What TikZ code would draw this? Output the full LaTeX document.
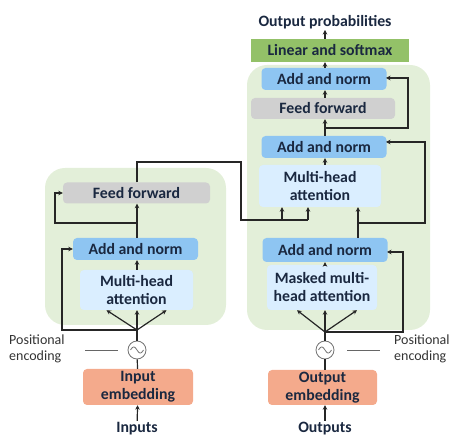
\documentclass[tikz,border=0pt]{standalone}
\usepackage{fontspec}
\setmainfont{Carlito}
\usetikzlibrary{arrows.meta,calc}
\definecolor{bgreen}{HTML}{E3EFD9}
\definecolor{anblue}{HTML}{8EC5F2}
\definecolor{mhblue}{HTML}{DAEEFF}
\definecolor{ffgray}{HTML}{D0D0D0}
\definecolor{lingreen}{HTML}{93C168}
\definecolor{embsal}{HTML}{F4AA8C}
\definecolor{txt}{HTML}{1A2840}
\begin{document}
\begin{tikzpicture}[x=1pt,y=-1pt,
  box/.style={rectangle, rounded corners=4pt, inner sep=0pt, align=center,
    font=\fontsize{15.8}{18}\selectfont\bfseries, text=txt},
  an/.style={box, fill=anblue, minimum width=125pt, minimum height=22pt},
  mh/.style={box, fill=mhblue},
  ff/.style={box, fill=ffgray, minimum height=21pt},
  emb/.style={box, fill=embsal, minimum width=110pt, minimum height=36pt},
  bg/.style={rectangle, rounded corners=20pt, fill=bgreen, inner sep=0pt},
  pe/.style={circle, draw=black!55, fill=white, minimum size=18pt, inner sep=0pt, line width=0.8pt},
  lbl/.style={font=\fontsize{15.8}{18}\selectfont\bfseries, text=txt, inner sep=1pt},
  plbl/.style={font=\fontsize{14}{16.5}\selectfont, text=black!80, align=left, inner sep=0pt},
  conn/.style={draw=black!85, line width=1.2pt},
  arr/.style={conn, -{Stealth[length=4.5pt,width=4.5pt]}},
  peline/.style={draw=black!60, line width=0.8pt},
]
\useasboundingbox (0,0) rectangle (453,438);

% backgrounds
\node[bg, minimum width=181pt, minimum height=157pt] (encbg) at (135.5,246.5) {};
\node[bg, minimum width=183pt, minimum height=265pt] (decbg) at (338.5,197.5) {};

% encoder
\node[ff, minimum width=147pt] (ff1) at (136.5,193) {Feed forward};
\node[an] (an1) at (135.5,249) {Add and norm};
\node[mh, minimum width=113pt, minimum height=40pt] (mha1) at (136.5,290) {Multi-head\\attention};
\node[pe] (c1) at (137,350) {};
\node[emb] (emb1) at (138,387) {Input\\embedding};
\node[lbl] (inputs) at (137,428.5) {Inputs};
\node[plbl, anchor=west] (pel) at (9,349) {Positional\\encoding};

% decoder
\node[lbl] (outprob) at (325,22) {Output probabilities};
\node[box, rounded corners=0pt, fill=lingreen, minimum width=158pt, minimum height=23pt] (lin) at (330,50.5) {Linear and softmax};
\node[an] (an3) at (324,79) {Add and norm};
\node[ff, minimum width=144pt] (ff2) at (323,108.5) {Feed forward};
\node[an] (an2) at (324,147) {Add and norm};
\node[mh, minimum width=122pt, minimum height=42pt] (mha2) at (320,186) {Multi-head\\attention};
\node[an, minimum height=24pt] (an4) at (325,250) {Add and norm};
\node[mh, minimum width=110pt, minimum height=45pt] (mmha) at (322,287.5) {Masked multi-\\head attention};
\node[pe] (c2) at (325,350) {};
\node[emb, minimum width=109pt, minimum height=35pt] (emb2) at (322.5,387.5) {Output\\embedding};
\node[lbl] (outputs) at (325,428.5) {Outputs};
\node[plbl, anchor=west] (per) at (394,349) {Positional\\encoding};

% sine symbols
\draw[black!55, line width=0.8pt, domain=-6.5:6.5, samples=25]
  plot ({\x+137}, {350+3*sin(\x*180/6.5)});
\draw[black!55, line width=0.8pt, domain=-6.5:6.5, samples=25]
  plot ({\x+325}, {350+3*sin(\x*180/6.5)});

% positional encoding lines
\coordinate (pl1) at (85,350); \coordinate (pl2) at (118,350);
\coordinate (pr1) at (347,350); \coordinate (pr2) at (380,350);
\draw[peline] (pl1) -- (pl2);
\draw[peline] (pr1) -- (pr2);

% encoder connectors
\coordinate (s1) at (137,330);
\draw[arr] (inputs) -- (emb1);
\draw[conn] (emb1) -- (c1);
\draw[conn] (c1) -- (s1);
\draw[arr] (s1) -- ($(mha1.south)+(-30,0)$);
\draw[arr] (s1) -- (mha1.south -| s1);
\draw[arr] (s1) -- ($(mha1.south)+(30,0)$);
\coordinate (r1) at (62,330);
\draw[arr] (s1) -- (r1) |- (an1.west);
\draw[arr] (mha1.north -| s1) -- (an1.south -| s1);
\draw[arr] (an1.north -| s1) -- (ff1.south -| s1);
\coordinate (b1) at (137,223);
\coordinate (r2) at (55,223);
\draw[arr] (b1) -- (r2) |- (ff1.west);
\coordinate (e1) at (137,162);
\coordinate (e2) at (241,162);
\coordinate (e3) at (241,220);
\coordinate (e4) at (308,220);
\draw[conn] (ff1.north -| e1) -- (e1) -- (e2) -- (e3) -- (e4);
\coordinate (e5) at (282,220);
\draw[arr] (e5) -- (mha2.south -| e5);
\draw[arr] (e4) -- (mha2.south -| e4);

% decoder connectors
\coordinate (s2) at (325,332);
\draw[arr] (outputs) -- (emb2.south -| outputs);
\draw[conn] (emb2.north -| c2) -- (c2);
\draw[conn] (c2) -- (s2);
\draw[arr] (s2) -- ($(mmha.south -| s2)+(-28,0)$);
\draw[arr] (s2) -- (mmha.south -| s2);
\draw[arr] (s2) -- ($(mmha.south -| s2)+(32,0)$);
\coordinate (r3) at (403,332);
\coordinate (t3) at (387,252);
\draw[arr] (s2) -- (r3) |- (t3);
\draw[arr] (mmha.north -| s2) -- (an4.south -| s2);
\coordinate (a4) at (358,238);
\draw[arr] (a4) -- (mha2.south -| a4);
\coordinate (b4) at (358,223);
\coordinate (r4) at (425,223);
\coordinate (t4) at (386,142);
\draw[arr] (b4) -- (r4) |- (t4);
\coordinate (mc) at (325,0);
\draw[arr] (mha2.north -| mc) -- (an2.south -| mc);
\draw[arr] (an2.north -| mc) -- (ff2.south -| mc);
\coordinate (b5) at (325,128);
\coordinate (r5) at (408,128);
\coordinate (t5) at (386,78);
\draw[arr] (b5) -- (r5) |- (t5);
\draw[arr] (ff2.north -| mc) -- (an3.south -| mc);
\draw[arr] (an3.north -| mc) -- (lin.south -| mc);
\draw[arr] (lin.north -| mc) -- (outprob.south -| mc);
\end{tikzpicture}
\end{document}
